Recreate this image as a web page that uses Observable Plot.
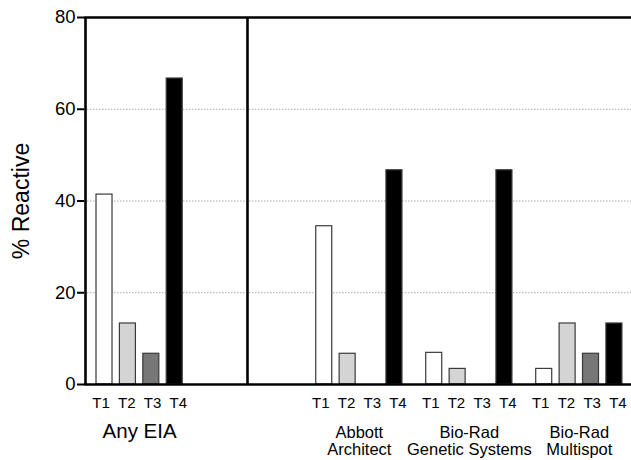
<!DOCTYPE html>
<html>
<head>
<meta charset="utf-8">
<script src="https://cdn.jsdelivr.net/npm/d3@7"></script>
<script src="https://cdn.jsdelivr.net/npm/@observablehq/plot@0.6"></script>
<style>
  html, body { margin: 0; padding: 0; background: #fff; }
  #chart svg { display: block; }
</style>
</head>
<body>
<div id="chart"></div>
<script>
// ---- data ----
const groups = ["Any EIA", "Abbott Architect", "Bio-Rad Genetic Systems", "Bio-Rad Multispot"];
const groupLabels = ["Any EIA", "Abbott\nArchitect", "Bio-Rad\nGenetic Systems", "Bio-Rad\nMultispot"];
const tests = ["T1", "T2", "T3", "T4"];
const anyEIA = [41.4, 13.3, 6.7, 66.7];
const abbott = [34.5, 6.7, 0, 46.7];
const genetic = [6.9, 3.4, 0, 46.7];
const multispot = [3.4, 13.3, 6.7, 13.3];
const yTicks = [0, 20, 40, 60, 80];
const gridTicks = [20, 40, 60];
const fills = {T1: "#ffffff", T2: "#d4d4d4", T3: "#777777", T4: "#000000"};

// ---- layout (slot units along x) ----
const seriesByGroup = [anyEIA, abbott, genetic, multispot];
const groupStart = [0, 9.39, 14.09, 18.79];
const divider = 6.11;
const half = 0.342;
const labelSpread = 1.1;

const rows = [];
groups.forEach((g, gi) => {
  tests.forEach((t, ti) => {
    rows.push({
      group: g, test: t, value: seriesByGroup[gi][ti],
      pos: groupStart[gi] + ti,
      labelPos: groupStart[gi] + 1.5 + (ti - 1.5) * labelSpread
    });
  });
});
const labelRows = groups.map((g, gi) => ({group: g, label: groupLabels[gi], pos: groupStart[gi] + 1.5, big: gi === 0}));

const font = "'Liberation Sans', Arial, Helvetica, sans-serif";

const plot = Plot.plot({
  width: 631,
  height: 460,
  marginLeft: 84,
  marginRight: 0,
  marginTop: 17,
  marginBottom: 76,
  style: {fontFamily: font, background: "#fff", color: "#000"},
  x: {type: "linear", domain: [-0.855, 22.52], axis: null},
  y: {domain: [0, 80], axis: null},
  marks: [
    Plot.ruleY(gridTicks, {stroke: "#aaaaaa", strokeWidth: 1, strokeDasharray: "1.5,1.5"}),
    Plot.rectY(rows, {
      x1: d => d.pos - half, x2: d => d.pos + half, y1: 0, y2: "value",
      fill: d => fills[d.test], stroke: "#3a3a3a", strokeWidth: 1.2
    }),
    Plot.ruleY([0], {stroke: "#000", strokeWidth: 2.6}),
    Plot.ruleY([80], {stroke: "#000", strokeWidth: 2.6}),
    Plot.ruleX([-0.855], {y1: 0, y2: 80, stroke: "#000", strokeWidth: 2.6, dx: 1}),
    Plot.ruleX([divider], {y1: 0, y2: 80, stroke: "#000", strokeWidth: 2.6}),
    Plot.axisY(yTicks, {
      ticks: yTicks, tickSize: 7, tickPadding: 2, fontSize: 18.5, label: null, stroke: "#000", strokeWidth: 2
    }),
    Plot.text(["% Reactive"], {
      frameAnchor: "left", dx: -63, rotate: -90, fontSize: 23, fill: "#000", textAnchor: "middle"
    }),
    Plot.text(rows, {
      x: "labelPos", y: 0, text: "test", dy: 12.5, lineAnchor: "top", fontSize: 15, fill: "#000", textAnchor: "middle"
    }),
    Plot.text(labelRows.filter(d => d.big), {
      x: "pos", y: 0, text: "label", dy: 38.5, lineAnchor: "top", fontSize: 20.5, fill: "#000", textAnchor: "middle"
    }),
    Plot.text(labelRows.filter(d => !d.big), {
      x: "pos", y: 0, text: "label", dy: 42, lineAnchor: "top", fontSize: 16.5, lineHeight: 1.02, fill: "#000", textAnchor: "middle"
    })
  ]
});
document.getElementById("chart").appendChild(plot);
</script>
</body>
</html>
